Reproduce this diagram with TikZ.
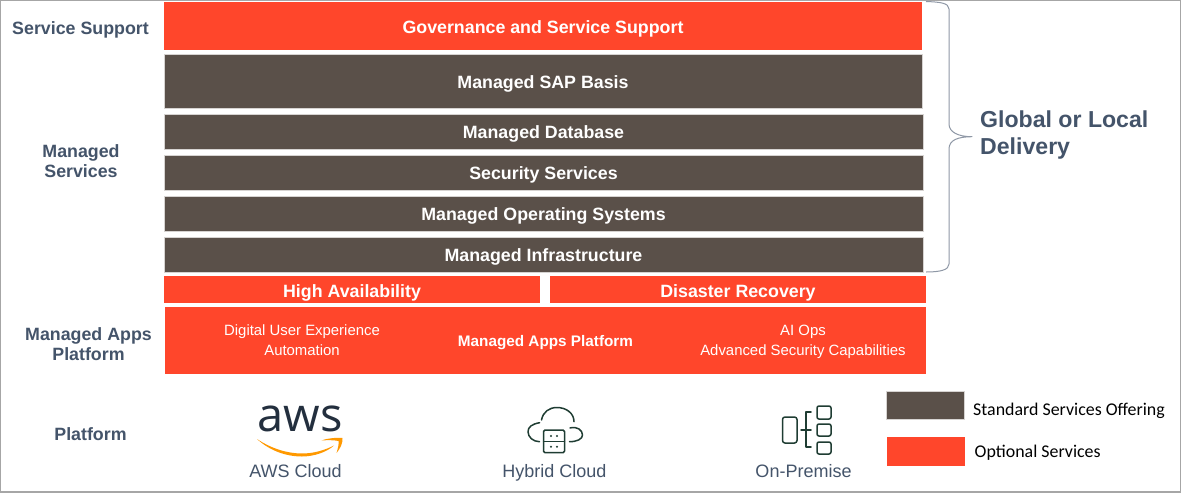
\documentclass[tikz,border=0pt]{standalone}
\usepackage{fontspec}
\setmainfont{Liberation Sans}
\newfontfamily\legendfont{Carlito}
\newfontfamily\awsfont{Open Sans}
\definecolor{stdgrey}{HTML}{5A5049}
\definecolor{optred}{HTML}{FF462B}
\definecolor{slate}{HTML}{44546A}
\definecolor{iconink}{HTML}{1F3D33}
\definecolor{awsink}{HTML}{232F3E}
\definecolor{awsorange}{HTML}{FF9900}
\tikzset{
  block/.style={inner sep=0pt,outer sep=0pt,text=white,align=center},
  stdblock/.style={block,fill=stdgrey,draw=white!75!stdgrey,line width=.6pt},
  optblock/.style={block,fill=optred},
  btitle/.style={font=\fontsize{17.8}{20}\selectfont\bfseries,text height=15pt,text depth=0pt},
  rowtitle/.style={btitle,text height=13.6pt},
  side/.style={text=slate,align=center,inner sep=0pt,font=\fontsize{17.8}{20.5}\selectfont\bfseries},
  plat/.style={text=slate,inner sep=0pt,text height=12.9pt,text depth=0pt,font=\fontsize{18}{20}\selectfont},
  inner/.style={text=white,align=center,inner sep=0pt,font=\fontsize{14.9}{20}\selectfont},
  legendtext/.style={text=black,anchor=west,inner sep=0pt,font=\fontsize{17.9}{20}\selectfont\legendfont},
  ico/.style={draw=iconink,line width=1.5pt,line cap=round,line join=round},
}
\begin{document}
\begin{tikzpicture}[x=1pt,y=-1pt]
\useasboundingbox (0,0) rectangle (1181,493);
\fill[white] (0,0) rectangle (1181,493);
\draw[color=black!35,line width=1.2pt] (0.6,0.6) rectangle (1180.2,492);

\node[optblock,btitle,minimum width=758pt,minimum height=48pt] (gov) at (543,26) {Governance and Service Support};
\node[stdblock,btitle,minimum width=758pt,minimum height=54pt] (sap) at (543,81) {Managed SAP Basis};
\node[stdblock,rowtitle,minimum width=759pt,minimum height=35pt] (db) at (543.5,132) {Managed Database};
\node[stdblock,rowtitle,minimum width=759pt,minimum height=35pt] (sec) at (543.5,173) {Security Services};
\node[stdblock,rowtitle,minimum width=759pt,minimum height=35pt] (ops) at (543.5,214) {Managed Operating Systems};
\node[stdblock,rowtitle,minimum width=759pt,minimum height=35pt] (infra) at (543.5,255) {Managed Infrastructure};
\node[optblock,btitle,minimum width=376pt,minimum height=27pt] (ha) at (352,289.5) {High Availability};
\node[optblock,btitle,minimum width=376pt,minimum height=27pt] (dr) at (738,289.5) {Disaster Recovery};
\node[optblock,minimum width=761pt,minimum height=67pt] (map) at (545.5,340.5) {};
\node[inner] (mapl) at (302,340.3) {Digital User Experience\\Automation};
\node[inner,font=\fontsize{15.3}{20}\selectfont\bfseries] (mapc) at (545.5,342.5) {Managed Apps Platform};
\node[inner] (mapr) at (803,341.5) {AI Ops\\Advanced Security Capabilities};

\node[side] (l1) at (80.5,29.5) {Service Support};
\node[side] (l2) at (81,161) {Managed\\Services};
\node[side] (l3) at (88.5,344) {Managed Apps\\Platform};
\node[side] (l4) at (90.5,434) {Platform};

\coordinate (bt) at (926,1.5);
\coordinate (bb) at (926,272);
\coordinate (btip) at (972,136.7);
\draw[color=slate!60,line width=1pt,line join=round]
  (bt) .. controls (940,2) and (949,3) .. (949,9)
  -- (949,124) .. controls (949,132) and (958,136.7) .. (btip)
  .. controls (958,136.7) and (949,140) .. (949,149)
  -- (949,264) .. controls (949,270) and (940,272) .. (bb);
\node[text=slate,anchor=west,align=left,inner sep=0pt,font=\fontsize{23.1}{27}\selectfont\bfseries] (glob) at (980,135.5) {Global or Local\\Delivery};

% AWS logo
\node[text=awsink,inner sep=0pt,font=\fontsize{47}{47}\selectfont\awsfont] (aws) at (300,419) {aws};
\fill[awsorange] (257,439) .. controls (272,449) and (288,453.5) .. (302,453.5)
  .. controls (314,453.5) and (325,450) .. (334,445.5)
  .. controls (327,452) and (314,456.5) .. (302,456.5)
  .. controls (285,456.5) and (269,450) .. (257,439) -- cycle;
\fill[awsorange] (321.5,440.5) .. controls (328,438) and (337,437.5) .. (342.5,438)
  .. controls (343,443) and (340,449) .. (336.5,453)
  .. controls (338,448) and (339,444) .. (338.5,441)
  .. controls (334,440) and (327,440) .. (321.5,440.5) -- cycle;
\node[plat] (awsl) at (295.5,471) {AWS Cloud};

% Hybrid cloud icon
\draw[ico] (539.6,422.7) .. controls (532,424) and (528,427) .. (528,431.7) .. controls (528,437) and (533,441.7) .. (539.5,441.7);
\draw[ico] (541.5,420) .. controls (543,412) and (549,407.5) .. (557,407.5) .. controls (566,407.5) and (574,413) .. (574,421.7);
\draw[ico] (570,428) .. controls (577,426) and (582.5,430) .. (582.5,435) .. controls (582.5,439) and (577,441.7) .. (569.5,441.7);
\draw[ico,rounded corners=1.5pt] (543.5,430) rectangle (564.5,452.7);
\draw[ico] (543.5,441.3) -- (564.5,441.3);
\foreach \dx/\dy in {551/436,557/436,551/446.7,557/446.7}
  \fill[iconink] (\dx,\dy) circle (1.1pt);
\node[plat] (hyb) at (554.5,471) {Hybrid Cloud};

% On-premise icon
\draw[ico,rounded corners=2.5pt] (782.5,417) rectangle (797,443);
\draw[ico] (801,430) -- (811,430);
\draw[ico] (811,412) -- (806,412) -- (806,447) -- (811,447);
\draw[ico,rounded corners=2pt] (817,406) rectangle (831,419);
\draw[ico,rounded corners=2pt] (817,424) rectangle (831,436);
\draw[ico,rounded corners=2pt] (817,442) rectangle (831,454);
\node[plat] (onp) at (803.5,471) {On-Premise};

% Legend
\node[stdblock,minimum width=78pt,minimum height=28pt] (lg1) at (925,405) {};
\node[legendtext] (lg1t) at (973,411) {Standard Services Offering};
\node[optblock,minimum width=78pt,minimum height=29pt] (lg2) at (926,451.5) {};
\node[legendtext] (lg2t) at (974.5,453) {Optional Services};
\end{tikzpicture}
\end{document}
